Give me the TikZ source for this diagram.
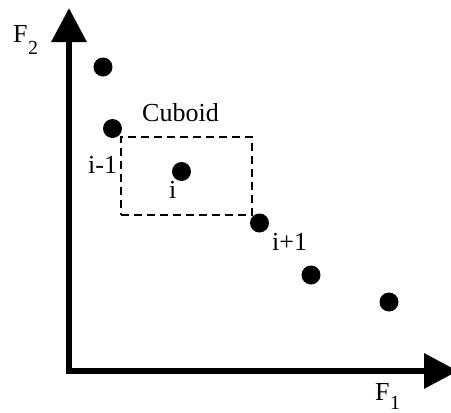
\documentclass[tikz,border=0pt]{standalone}
\usepackage{fontspec}
\setmainfont{Liberation Serif}
\usetikzlibrary{arrows.meta}
\begin{document}
\begin{tikzpicture}[x=1pt,y=-1pt,
  axis/.style={line width=6.5pt, line cap=rect, -{Triangle[length=34pt,width=34pt]}},
  dot/.style={circle, fill=black, inner sep=0pt, minimum size=19pt},
  cuboid/.style={draw, line width=2.4pt, dash pattern=on 8pt off 5pt, inner sep=0pt},
  lbl/.style={inner sep=0pt, anchor=base west, font=\fontsize{26}{30}\selectfont},
  sub/.style={inner sep=0pt, anchor=base west, font=\fontsize{20}{24}\selectfont}]
\useasboundingbox (0,0) rectangle (451,413);
\begin{scope}
\clip (0,0) rectangle (451,413);
\coordinate (O) at (69,371);
\coordinate (ytip) at (69,8);
\coordinate (xtip) at (458,371);
\draw[axis] (O) -- (ytip);
\draw[axis] (O) -- (xtip);
\end{scope}
\node[lbl] (f2) at (13,42) {F};
\node[sub] (f2s) at (f2.base east) {\raisebox{-12pt}{2}};
\node[lbl] (f1) at (375,400) {F};
\node[sub] (f1s) at (f1.base east) {\raisebox{-9pt}{1}};
\node[cuboid, minimum width=131pt, minimum height=78pt] (cub) at (186.5,176) {};
\node[dot] (p1) at (103,67) {};
\node[dot] (p2) at (112.5,128.5) {};
\node[dot] (p3) at (181.5,171.5) {};
\node[dot] (p4) at (259.5,223) {};
\node[dot] (p5) at (311,275) {};
\node[dot] (p6) at (389,302) {};
\node[lbl] (tc) at (142,121) {Cuboid};
\node[lbl] (tim) at (88,173) {i-1};
\node[lbl] (ti) at (169,198) {i};
\node[lbl] (tip) at (272,250) {i+1};
\end{tikzpicture}
\end{document}
